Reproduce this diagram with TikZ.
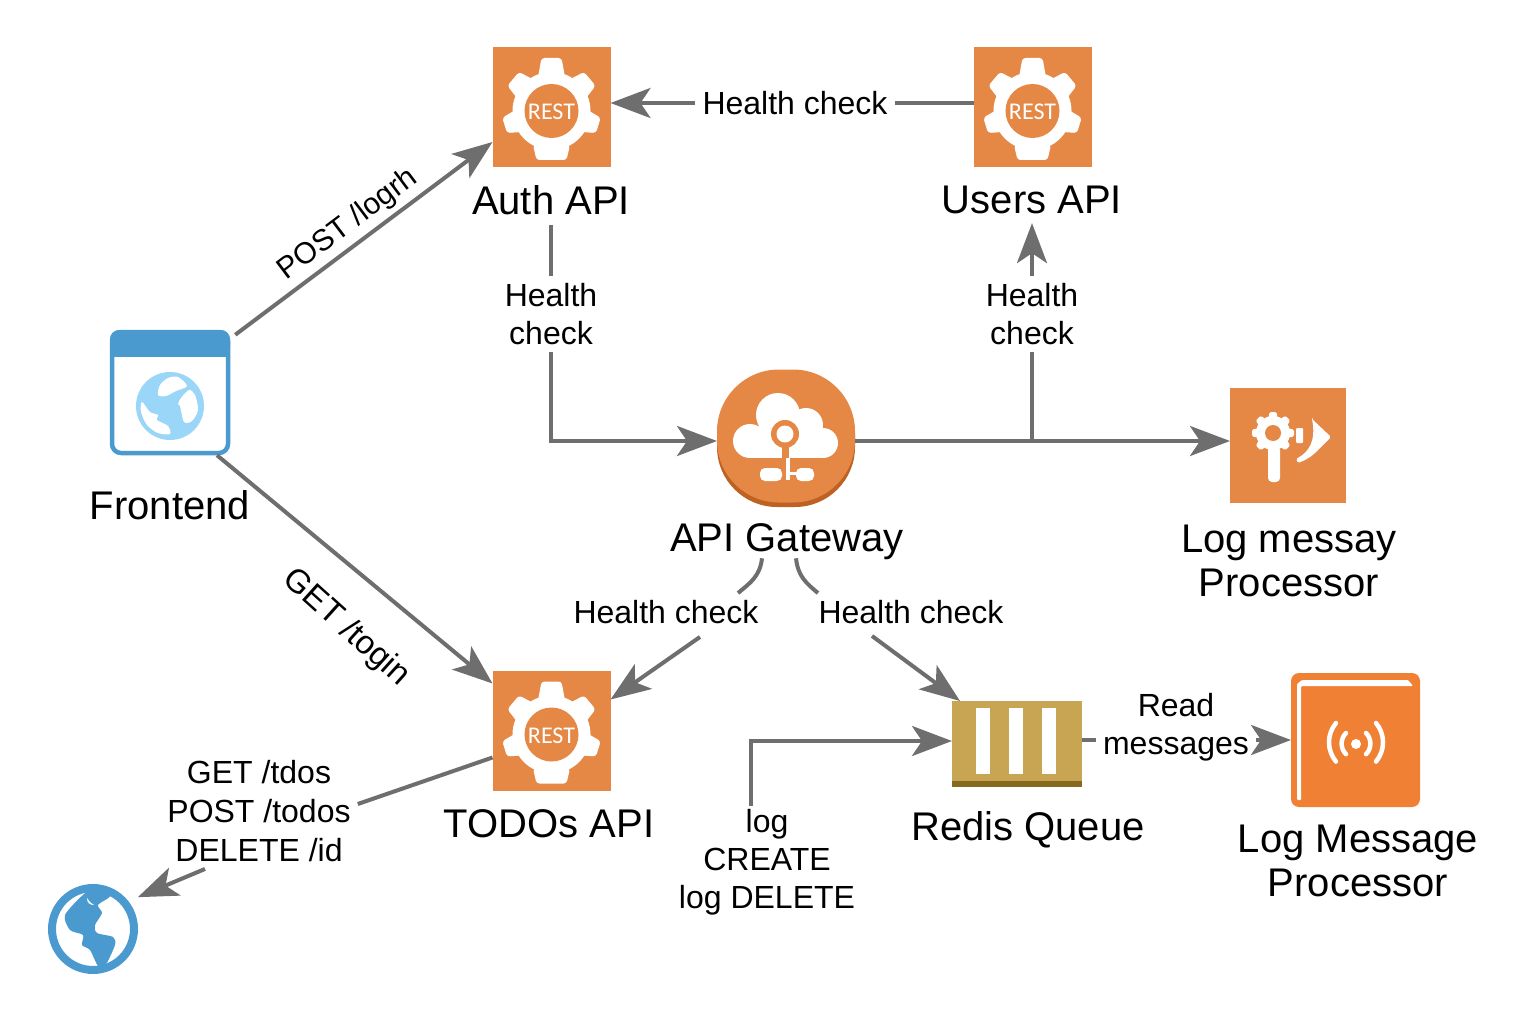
\documentclass[tikz,border=0pt]{standalone}
\usepackage{tikz}
\usepackage{amsmath}
\usepackage{fontspec}
\setmainfont{Liberation Sans}
\newfontfamily\tagfont{Carlito}
\usetikzlibrary{arrows.meta}
\definecolor{apiorange}{HTML}{E58745}
\definecolor{apishade}{HTML}{BE6224}
\definecolor{logorange}{HTML}{F08134}
\definecolor{queuegold}{HTML}{C8A552}
\definecolor{queueshade}{HTML}{85691E}
\definecolor{webblue}{HTML}{4A9AD0}
\definecolor{weblight}{HTML}{9AD6F8}
\definecolor{wiregray}{HTML}{6E6E6E}
\tikzset{
  wire/.style={draw=wiregray,line width=4pt},
  flow/.style={wire,-{Stealth[length=40pt,width=30pt,inset=10pt]}},
  apibox/.style={fill=apiorange,minimum width=118pt,minimum height=120pt,inner sep=0pt,outer sep=0pt},
  namelabel/.style={font=\fontsize{40}{44}\selectfont,align=center,inner sep=2pt},
  edgelabel/.style={font=\fontsize{32}{38}\selectfont,align=center,inner sep=7pt},
  restgear/.pic={
    \fill[white] (0,0) circle (39);
    \foreach \a/\w/\r in {90/10/53,40/9/50,-17/8/49,-90/15/49,-163/8/49,140/9/50} {
      \fill[white,rotate=\a,rounded corners=3pt] (34,-\w-3.5) -- (\r,-\w) -- (\r,\w) -- (34,\w+3.5) -- cycle;
    }
    \fill[apiorange] (0,0) circle (27);
    \node[text=white,inner sep=0pt,font=\tagfont\fontsize{24}{24}\selectfont] (-tag) at (0,1) {REST};
  }
}
\begin{document}
\begin{tikzpicture}[x=1pt,y=-1pt]
    \useasboundingbox (0,0) rectangle (1536,1024);

    \node[apibox] (auth) at (551.5,107) {};
    \node[apibox] (users) at (1032.5,107) {};
    \node[apibox] (todos) at (551.5,730.5) {};
    \pic (authgear) at (551.5,111) {restgear};
    \pic (usersgear) at (1032.5,111) {restgear};
    \pic (todosgear) at (551.5,734.5) {restgear};
    \node[namelabel] (authname) at (551,200) {Auth API};
    \node[namelabel] (usersname) at (1032,200) {Users API};
    \node[namelabel] (todosname) at (549,824) {TODOs API};

    \node[rounded corners=60pt,fill=apishade,minimum width=138pt,minimum height=132pt,inner sep=0pt] (gatewayshade) at (786,441) {};
    \node[rounded corners=62pt,fill=apiorange,minimum width=138pt,minimum height=133pt,inner sep=0pt,outer sep=0pt] (gateway) at (786,436) {};
    \fill[white] (750,441) circle (17) (778,415) circle (22) (806,425) circle (17) (823,443) circle (15);
    \fill[white] (750,432) rectangle (823,458);
    \fill[apiorange] (785,434) circle (14);
    \fill[white] (785,434) circle (8.5);
    \fill[apiorange] (782,447) rectangle (789,458);
    \fill[white] (785.5,458) rectangle (790,480);
    \fill[white,rounded corners=5pt] (760,468) rectangle (782,481);
    \fill[white,rounded corners=5pt] (796,468) rectangle (814,481);
    \fill[white] (790,472) rectangle (797,474.5);
    \node[namelabel] (gatewayname) at (787,542) {API Gateway};

    \node[fill=apiorange,minimum width=116pt,minimum height=115pt,inner sep=0pt,outer sep=0pt] (logproc) at (1288,445.5) {};
    \fill[white] (1273,433) circle (17);
    \foreach \a in {0,45,...,315} {
      \fill[white,rotate around={\a:(1273,433)},rounded corners=1.5pt] (1286,428) -- (1294,429.5) -- (1294,436.5) -- (1286,438) -- cycle;
    }
    \fill[apiorange] (1273,433) circle (8);
    \fill[white,rounded corners=4pt] (1268,446) rectangle (1280,482);
    \fill[white,rounded corners=1pt] (1296,428) rectangle (1303,443);
    \fill[white,rounded corners=1.5pt] (1312,419) -- (1331,437) -- (1316,452) .. controls (1310,458) and (1303,461) .. (1298,463) -- (1296,459) .. controls (1309,452) and (1316,441) .. (1312,419) -- cycle;
    \node[namelabel] (logprocname) at (1289,561) {Log messay\\Processor};

    \node[fill=queueshade,minimum width=130pt,minimum height=86pt,inner sep=0pt,outer sep=0pt] (redis) at (1017,744) {};
    \fill[queuegold] (redis.north west) rectangle ([yshift=6pt]redis.south east);
    \foreach \x in {976,1009,1042} {
      \fill[white] (\x,708) rectangle (\x+13.5,774);
    }
    \node[namelabel] (redisname) at (1028,830) {Redis Queue};

    \node[fill=logorange,rounded corners=8pt,minimum width=129pt,minimum height=134pt,inner sep=0pt,outer sep=0pt] (logmsg) at (1355.5,740) {};
    \fill[white,rounded corners=1pt] (1297,800) -- (1297,684) -- (1302,680) -- (1408,680) -- (1413,686) -- (1301,686) -- (1301,800) -- cycle;
    \fill[white] (1356,744) circle (5);
    \draw[white,line width=4.5pt,line cap=round] (1366,733) arc (-45:45:15) (1346,733) arc (225:135:15);
    \draw[white,line width=4.5pt,line cap=round] (1376,723) arc (-40:40:30) (1336,723) arc (220:140:30);
    \node[namelabel] (logmsgname) at (1358,861) {Log Message\\Processor};

    \node[draw=webblue,line width=4.5pt,fill=white,rounded corners=9pt,minimum width=116pt,minimum height=121pt,inner sep=0pt,outer sep=2.25pt] (frontend) at (170,392.5) {};
    \fill[webblue,rounded corners=9pt] (110,330) -- (230,330) -- (230,356) -- (110,356) -- cycle;
    \fill[webblue] (110,345) rectangle (230,356.5);
    \fill[weblight] (170,406) circle (34);
    \fill[white] plot[smooth cycle] coordinates {(168,378) (178,377) (187,386) (176,391) (166,396) (158,395) (160,385)};
    \fill[white] plot[smooth cycle] coordinates {(189,390) (195,395) (198,410) (192,421) (184,422) (180,406) (178,404) (181,398)};
    \fill[white] plot[smooth cycle] coordinates {(142,402) (150,412) (158,415) (157,420) (168,426) (170,434) (158,433) (147,425) (141,412)};
    \node[namelabel] (frontendname) at (170,505) {Frontend};

    \node[circle,draw=webblue,line width=8pt,fill=white,minimum size=82pt,inner sep=0pt] (globe) at (93,929) {};
    \fill[webblue] plot[smooth cycle,tension=0.45] coordinates {(84,894) (65,915) (70,930) (83,935) (82,945) (90,950) (98,966) (105,966) (115,945) (113,937) (97,933) (95,925) (102,913) (98,905) (110,896) (95,890)};
    \fill[white] (87,898) .. controls (90,903) and (93,904) .. (94,905) .. controls (90,905) and (87,903) .. (87,898) -- cycle;

    \node[edgelabel] (hctop) at (795,103) {Health check};
    \node[edgelabel] (hcauth) at (551,314) {Health\\check};
    \node[edgelabel] (hcusers) at (1032,314) {Health\\check};
    \node[edgelabel] (hctodos) at (666,612) {Health check};
    \node[edgelabel] (hcredis) at (911,612) {Health check};
    \node[edgelabel] (readmsg) at (1176,727) {Read\\messages};
    \node[edgelabel,inner sep=3pt] (lognode) at (767,862) {log\\CREATE\\log DELETE};
    \node[edgelabel,font=\fontsize{32}{39}\selectfont] (gettodos) at (259,811) {GET /tdos\\POST /todos\\DELETE /id};
    \node[edgelabel,rotate=37,font=\fontsize{30}{36}\selectfont] (postlogin) at (348,225) {POST /logrh};
    \node[edgelabel,rotate=-42,font=\fontsize{33}{38}\selectfont] (getlogin) at (346,628) {GET /togin};

    \coordinate (branch) at (1032,441);
    \coordinate (redisout) at ([yshift=4pt]redis.east);

    \draw[flow] ([shift={(5,5)}]frontend.north east) -- ([yshift=-35pt]auth.west);
    \draw[flow] ([xshift=47pt]frontend.south) -- ([yshift=47pt]todos.west);
    \draw[wire] ([yshift=4pt]users.west) -- (hctop);
    \draw[flow] (hctop) -- ([yshift=4pt]auth.east);
    \draw[wire] ([yshift=-8pt]authname.south) -- (hcauth.north);
    \draw[flow] (hcauth.south) |- ([yshift=-5pt]gateway.west);
    \draw[flow] ([yshift=-5pt]gateway.east) -- (branch) -- (branch -| logproc.west);
    \draw[wire] (branch) -- (hcusers.south);
    \draw[flow] (hcusers.north) -- ([yshift=-7pt]usersname.south);
    \draw[wire] ([shift={(-25,-4)}]gatewayname.south) .. controls +(-2,18) and +(12,-10) .. ([xshift=72pt]hctodos.north);
    \draw[flow] ([shift={(34,6)}]hctodos.south) -- ([yshift=31pt]todos.east);
    \draw[wire] ([shift={(9,-4)}]gatewayname.south) .. controls +(2,18) and +(-12,-10) .. ([xshift=-93pt]hcredis.north);
    \draw[flow] ([shift={(-39,5)}]hcredis.south) -- ([xshift=8pt]redis.north west);
    \draw[wire] ([yshift=-27pt]todos.west) -- ([yshift=7pt]gettodos.east);
    \draw[flow] ([xshift=-54pt]gettodos.south) -- ([xshift=13pt]globe.north east);
    \draw[flow] ([xshift=-16pt]lognode.north) |- ([yshift=3pt]redis.west);
    \draw[wire] (redisout) -- (redisout -| readmsg.west);
    \draw[flow] (redisout -| readmsg.east) -- (redisout -| logmsg.west);
\end{tikzpicture}
\end{document}
